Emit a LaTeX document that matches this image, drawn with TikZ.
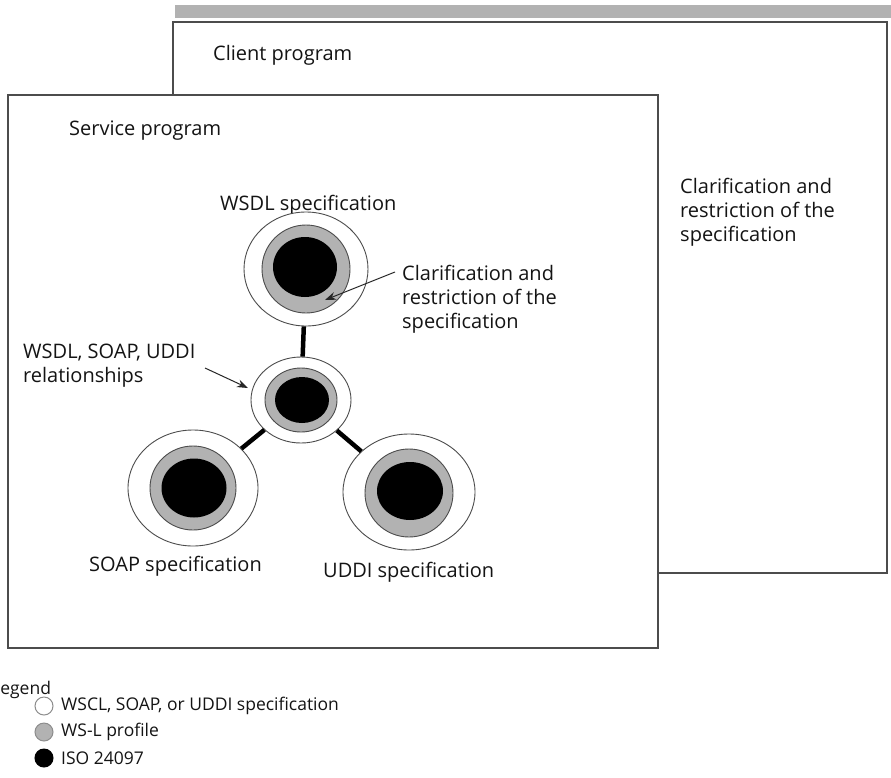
\documentclass[tikz,border=0pt]{standalone}
\usepackage{fontspec}
\setmainfont{Open Sans}
\usetikzlibrary{shapes.geometric,arrows.meta}
\begin{document}
\begin{tikzpicture}[x=1pt,y=-1pt,
 boxline/.style={draw=black!70, line width=1.4pt},
 lbl/.style={font=\fontsize{20}{24}\selectfont, text=black!92, inner sep=0pt, anchor=west, align=left},
 leg/.style={font=\fontsize{17.5}{20}\selectfont, text=black!92, inner sep=0pt, anchor=west},
 outer/.style={ellipse, draw=black!70, line width=0.9pt, fill=white, inner sep=0pt},
 ring/.style={ellipse, draw=black!70, line width=0.9pt, fill=black!30, inner sep=0pt},
 core/.style={ellipse, fill=black, inner sep=0pt},
 conn/.style={line width=4.5pt, black},
 arr/.style={-{Stealth[length=11pt,width=8pt]}, line width=1pt, black!85},
 legdot/.style={circle, minimum size=18pt, inner sep=0pt, line width=1pt},
]
\useasboundingbox (0,0) rectangle (891,777);
% client program box
\fill[black!30] (175,5) rectangle (891,18);
\draw[boxline, fill=white] (173,22) rectangle (887,573);
\node[lbl] (client) at (213,55) {Client program};
\node[lbl] (clar2) at (680,212) {Clarification and\\restriction of the\\specification};
% service program box
\draw[boxline, fill=white] (8,95) rectangle (658,648);
\node[lbl] (service) at (69,131) {Service program};
\node[lbl] (wsdltxt) at (220,205) {WSDL specification};
\node[lbl] (clar1) at (402,299) {Clarification and\\restriction of the\\specification};
\node[lbl] (reltxt) at (23,366) {WSDL, SOAP, UDDI\\relationships};
\node[lbl] (soaptxt) at (89,566) {SOAP specification};
\node[lbl] (uddutxt) at (323,572) {UDDI specification};
% circles
\node[outer, minimum width=124pt, minimum height=114pt] (wsdl) at (306,269) {};
\node[ring, minimum width=88pt, minimum height=88pt] at (306,269) {};
\node[core, minimum width=64pt, minimum height=60pt] at (305,267) {};
\node[outer, minimum width=100pt, minimum height=86pt] (mid) at (301,400) {};
\node[ring, minimum width=72pt, minimum height=64pt] at (301,400) {};
\node[core, minimum width=54pt, minimum height=46pt] at (302,400) {};
\node[outer, minimum width=130pt, minimum height=116pt] (soap) at (193,488) {};
\node[ring, minimum width=86pt, minimum height=84pt] at (193,488) {};
\node[core, minimum width=65pt, minimum height=59pt] at (194,488) {};
\node[outer, minimum width=132pt, minimum height=116pt] (uddi) at (409,492) {};
\node[ring, minimum width=88pt, minimum height=88pt] at (409,493) {};
\node[core, minimum width=66pt, minimum height=58pt] at (410,491) {};
% connectors
\draw[conn] (wsdl) -- (mid);
\draw[conn] (mid) -- (soap);
\draw[conn] (mid) -- (uddi);
% arrows
\coordinate (tip1) at (325,300);
\coordinate (tip2) at (248,388);
\draw[arr] ([xshift=-7pt]clar1.west |- 0,272) -- (tip1);
\draw[arr] (205,368) -- (tip2);
% legend
\node[leg] (legend) at (-9,690) {Legend};
\node[legdot, draw=black!45, fill=white] (l1) at (44,706) {};
\node[legdot, draw=black!45, fill=black!30] (l2) at (44,732) {};
\node[legdot, draw=black, fill=black] (l3) at (44,758) {};
\node[leg] at (61,706) {WSCL, SOAP, or UDDI specification};
\node[leg] at (61,732) {WS-L profile};
\node[leg] at (61,758) {ISO 24097};
\end{tikzpicture}
\end{document}
